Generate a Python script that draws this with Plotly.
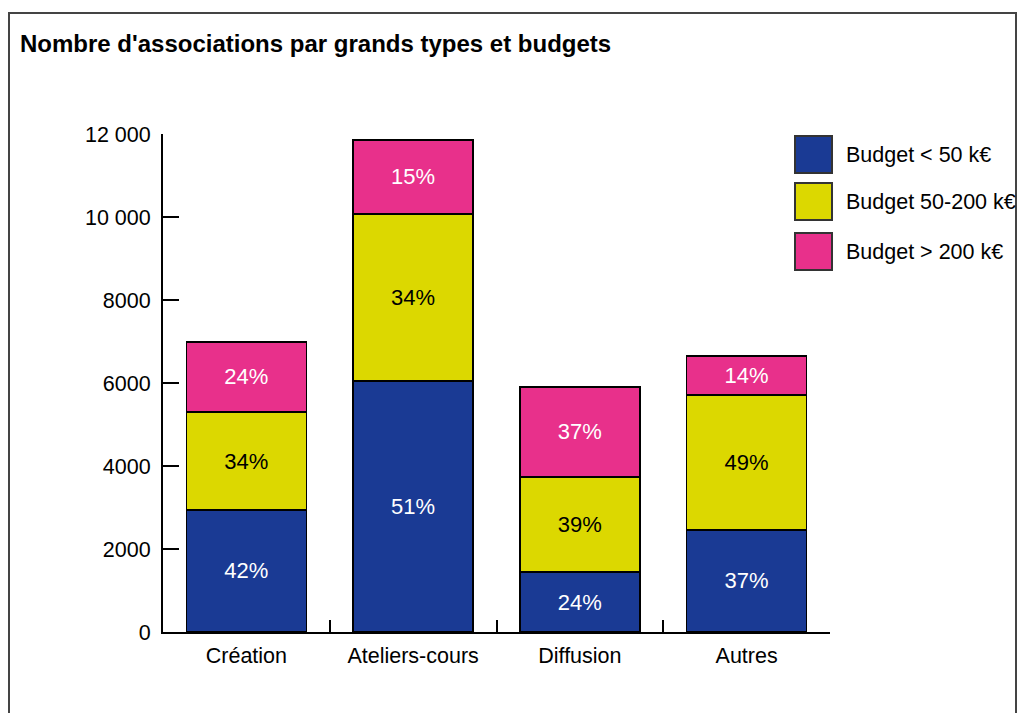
import plotly.graph_objects as go

categories = ["Création", "Ateliers-cours", "Diffusion", "Autres"]
series_names = ["Budget < 50 k€", "Budget 50-200 k€", "Budget > 200 k€"]
budget_small = [2940, 6050, 1445, 2460]
budget_mid = [2360, 4020, 2290, 3250]
budget_large = [1690, 1790, 2170, 940]
pct_small = ["42%", "51%", "24%", "37%"]
pct_mid = ["34%", "34%", "39%", "49%"]
pct_large = ["24%", "15%", "37%", "14%"]
y_tickvals = [0, 2000, 4000, 6000, 8000, 10000, 12000]
y_ticktext = ["0", "2000", "4000", "6000", "8000", "10 000", "12 000"]

colors = ["#1a3a94", "#dcd800", "#e8308b"]
text_colors = ["white", "black", "white"]
FONT = "Liberation Sans, Arial, sans-serif"
FS = 21.5

W, H = 1018, 713
L, R, T, B = 163, 830, 134, 632


def px(x):
    return (x - L) / (R - L)


def py(y):
    return (B - y) / (B - T)


fig = go.Figure()
for vals, pct, name, c, tc in zip([budget_small, budget_mid, budget_large],
                                   [pct_small, pct_mid, pct_large],
                                   series_names, colors, text_colors):
    fig.add_trace(go.Bar(
        x=categories, y=vals, name=name, text=pct,
        textposition="inside", insidetextanchor="middle",
        textfont=dict(color=tc, size=FS + 0.5, family=FONT),
        marker=dict(color=c, line=dict(color="black", width=1.5)),
        showlegend=False, hoverinfo="skip",
    ))

shapes = []
annotations = []
# outer frame
shapes.append(dict(type="rect", xref="paper", yref="paper",
                   x0=px(9), x1=px(1016), y0=py(730), y1=py(13),
                   line=dict(color="#444", width=2), fillcolor="rgba(0,0,0,0)", layer="below"))
# legend
leg_tops = [136, 183, 233]
for name, c, top in zip(series_names, colors, leg_tops):
    shapes.append(dict(type="rect", xref="paper", yref="paper",
                       x0=px(795), x1=px(832), y0=py(top + 37), y1=py(top),
                       line=dict(color="#333", width=2), fillcolor=c))
    annotations.append(dict(xref="paper", yref="paper", x=px(844), y=py(top + 19),
                            xanchor="left", yanchor="middle", showarrow=False,
                            text=name, font=dict(size=FS, color="black", family=FONT)))

fig.update_layout(
    width=W, height=H,
    margin=dict(l=L, r=W - R, t=T, b=H - B),
    paper_bgcolor="white", plot_bgcolor="white",
    barmode="stack", bargap=0.28,
    font=dict(family=FONT, size=FS, color="black"),
    title=dict(text="<b>Nombre d'associations par grands types et budgets</b>",
               x=20 / W, xanchor="left", y=1 - 44 / H, yanchor="middle",
               xref="container", yref="container",
               font=dict(size=24, family=FONT, color="black")),
    shapes=shapes, annotations=annotations,
    uniformtext=dict(minsize=10, mode="show"),
)
fig.update_yaxes(range=[0, 12000], tickvals=y_tickvals, ticktext=y_ticktext,
                 showgrid=False, zeroline=False, showline=True, linecolor="black", linewidth=2,
                 ticks="inside", ticklen=16, tickwidth=2, tickcolor="black",
                 ticklabelstandoff=6,
                 tickfont=dict(size=FS, family=FONT))
fig.update_xaxes(showgrid=False, showline=True, linecolor="black", linewidth=2,
                 ticks="inside", tickson="boundaries", ticklen=12, tickwidth=2, tickcolor="black",
                 ticklabelstandoff=3,
                 tickfont=dict(size=FS, family=FONT), range=[-0.5, 3.5])

fig.write_html("out.html", config={"displayModeBar": False},
               post_script="document.body.style.margin='0';")
